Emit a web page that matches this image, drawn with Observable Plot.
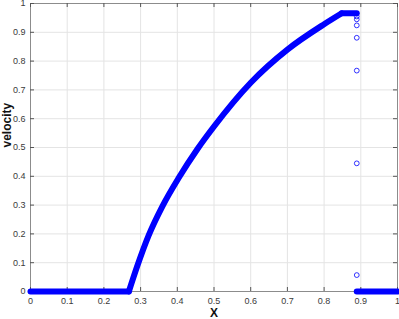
<!DOCTYPE html>
<html>
<head>
<meta charset="utf-8">
<script src="https://cdn.jsdelivr.net/npm/d3@7"></script>
<script src="https://cdn.jsdelivr.net/npm/@observablehq/plot@0.6"></script>
<style>
  html, body { margin: 0; padding: 0; background: #fff; }
  svg { display: block; }
</style>
</head>
<body>
<div id="chart"></div>
<script>
// ---- data ----
const xTicks = [0, 0.1, 0.2, 0.3, 0.4, 0.5, 0.6, 0.7, 0.8, 0.9, 1];
const yTicks = [0, 0.1, 0.2, 0.3, 0.4, 0.5, 0.6, 0.7, 0.8, 0.9, 1];

// left constant state (velocity 0)
const leftX = [0, 0.268];
const leftV = [0, 0];
// rarefaction fan
const riseX = [0.268, 0.29, 0.322, 0.359, 0.404, 0.455, 0.5, 0.6, 0.7, 0.8, 0.848];
const riseV = [0, 0.085, 0.195, 0.295, 0.395, 0.495, 0.573, 0.725, 0.84, 0.928, 0.966];
// plateau
const plateauX = [0.848, 0.889];
const plateauV = [0.966, 0.966];
// right constant state (velocity 0)
const rightX = [0.889, 1];
const rightV = [0, 0];
// isolated points at the shock
const shockX = [0.889, 0.889, 0.889, 0.889, 0.889, 0.889, 0.889];
const shockV = [0.955, 0.945, 0.924, 0.881, 0.767, 0.445, 0.057];

const band = [
  ...leftX.map((x, i) => ({x, v: leftV[i], s: "left"})),
  ...riseX.map((x, i) => ({x, v: riseV[i], s: "rise"})),
  ...plateauX.map((x, i) => ({x, v: plateauV[i], s: "plateau"})),
  ...rightX.map((x, i) => ({x, v: rightV[i], s: "right"}))
];
const shock = shockX.map((x, i) => ({x, v: shockV[i]}));

const W = 399, H = 319;
const mT = 3, mR = 2, mB = 28, mL = 30;
const plotH = H - mT - mB, plotW = W - mL - mR;
const tick = 4;
const fmt = d => String(d);

const chart = Plot.plot({
  width: W,
  height: H,
  marginTop: mT,
  marginRight: mR,
  marginBottom: mB,
  marginLeft: mL,
  style: {fontFamily: "'Liberation Sans', Arial, Helvetica, sans-serif", fontSize: "9px", background: "#fff"},
  x: {domain: [0, 1]},
  y: {domain: [0, 1]},
  marks: [
    Plot.gridX(xTicks, {stroke: "#e4e4e4", strokeOpacity: 1}),
    Plot.gridY(yTicks, {stroke: "#e4e4e4", strokeOpacity: 1}),
    Plot.frame({stroke: "#8c8c8c"}),
    // inward ticks on all four sides
    Plot.tickX(xTicks, {x: d => d, insetTop: plotH - tick, stroke: "#555"}),
    Plot.tickX(xTicks, {x: d => d, insetBottom: plotH - tick, stroke: "#555"}),
    Plot.tickY(yTicks, {y: d => d, insetRight: plotW - tick, stroke: "#555"}),
    Plot.tickY(yTicks, {y: d => d, insetLeft: plotW - tick, stroke: "#555"}),
    Plot.axisX(xTicks, {tickSize: 0, tickPadding: 6, tickFormat: fmt, label: null, color: "#3a3a3a", fontSize: 9}),
    Plot.axisY(yTicks, {tickSize: 0, tickPadding: 5, tickFormat: fmt, label: null, color: "#3a3a3a", fontSize: 9}),
    Plot.line(band, {x: "x", y: "v", z: "s", stroke: "#0000ff", strokeWidth: 6,
      strokeLinecap: "round", strokeLinejoin: "round", curve: "monotone-x"}),
    Plot.dot(shock, {x: "x", y: "v", r: 2.4, stroke: "#0000ff", strokeWidth: 0.8, fill: "none"}),
    Plot.text(["X"], {frameAnchor: "bottom", lineAnchor: "middle", dy: 21.5, fontWeight: "bold", fontSize: 12, fill: "#111"}),
    Plot.text(["velocity"], {frameAnchor: "left", dx: -23, rotate: -90, fontWeight: "bold", fontSize: 12, fill: "#111"})
  ]
});
document.getElementById("chart").appendChild(chart);
</script>
</body>
</html>
